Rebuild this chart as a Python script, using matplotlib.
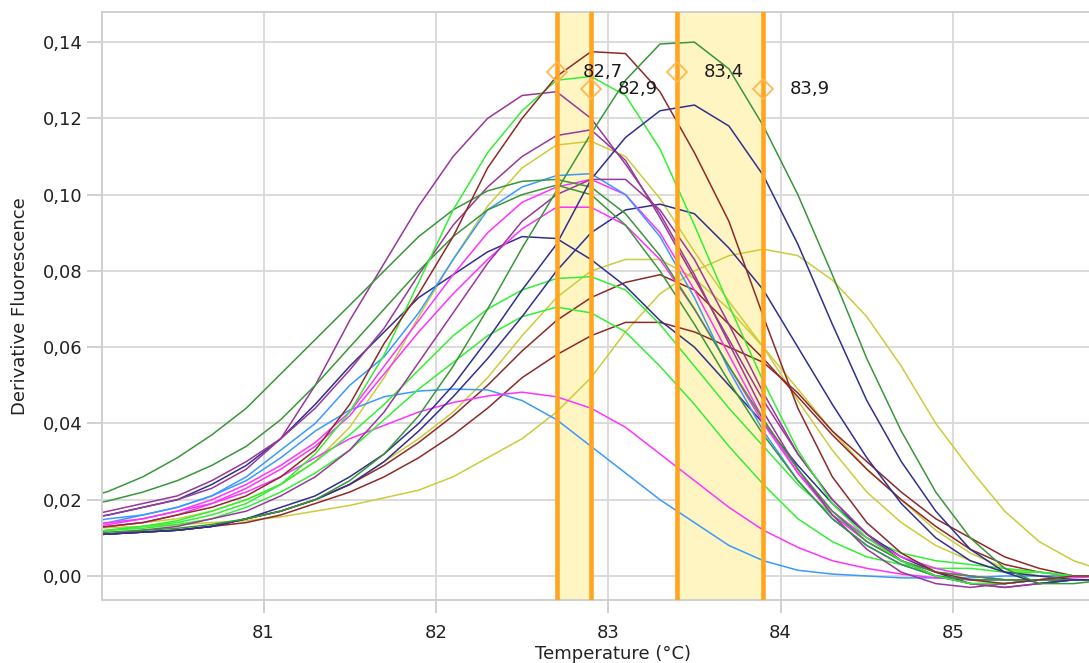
import matplotlib
matplotlib.use("Agg")
import matplotlib.pyplot as plt
from matplotlib.ticker import FuncFormatter

# Temperature grid (°C) shared by all melt curves
temps = [79.9, 80.1, 80.3, 80.5, 80.7, 80.9, 81.1, 81.3, 81.5, 81.7, 81.9,
         82.1, 82.3, 82.5, 82.7, 82.9, 83.1, 83.3, 83.5, 83.7, 83.9,
         84.1, 84.3, 84.5, 84.7, 84.9, 85.1, 85.3, 85.5, 85.7, 85.9]

# -dF/dT per well
g1 = [0.0195, 0.0222, 0.026, 0.031, 0.037, 0.044, 0.053, 0.062, 0.071, 0.080, 0.089, 0.096, 0.101, 0.1035, 0.104, 0.102,
      0.095, 0.084, 0.070, 0.055, 0.041, 0.028, 0.017, 0.009, 0.004, 0.001, 0.000, -0.001, -0.001, -0.001, -0.001]
g2 = [0.0178, 0.0197, 0.022, 0.025, 0.029, 0.034, 0.041, 0.050, 0.060, 0.070, 0.080, 0.089, 0.096, 0.100, 0.1025, 0.100,
      0.092, 0.080, 0.066, 0.051, 0.037, 0.025, 0.015, 0.008, 0.003, 0.000, -0.001, -0.001, -0.001, -0.001, -0.001]
g3 = [0.011, 0.0115, 0.012, 0.0125, 0.0135, 0.015, 0.017, 0.020, 0.025, 0.032, 0.042, 0.055, 0.070, 0.086, 0.101, 0.116,
      0.130, 0.1395, 0.140, 0.133, 0.118, 0.100, 0.079, 0.057, 0.038, 0.022, 0.010, 0.002, -0.002, -0.002, -0.001]
n1 = [0.0105, 0.011, 0.0115, 0.012, 0.013, 0.015, 0.018, 0.021, 0.026, 0.032, 0.040, 0.050, 0.062, 0.075, 0.087, 0.104,
      0.115, 0.122, 0.1235, 0.118, 0.105, 0.087, 0.066, 0.046, 0.030, 0.017, 0.007, 0.001, -0.002, -0.001, -0.001]
n2 = [0.0105, 0.011, 0.0115, 0.012, 0.013, 0.015, 0.017, 0.020, 0.024, 0.030, 0.038, 0.047, 0.057, 0.068, 0.080, 0.090,
      0.096, 0.0975, 0.095, 0.086, 0.075, 0.060, 0.045, 0.031, 0.019, 0.010, 0.004, 0.001, 0.000, -0.001, -0.001]
n3 = [0.0145, 0.016, 0.018, 0.020, 0.024, 0.029, 0.036, 0.045, 0.055, 0.064, 0.073, 0.079, 0.085, 0.089, 0.0885, 0.083,
      0.076, 0.067, 0.060, 0.050, 0.040, 0.029, 0.019, 0.011, 0.005, 0.001, -0.002, -0.002, -0.001, -0.001, -0.001]
p1 = [0.0145, 0.016, 0.018, 0.020, 0.023, 0.028, 0.036, 0.050, 0.067, 0.082, 0.097, 0.110, 0.120, 0.126, 0.127, 0.120,
      0.108, 0.095, 0.079, 0.061, 0.043, 0.028, 0.016, 0.007, 0.001, -0.002, -0.003, -0.002, -0.001, -0.001, -0.001]
p2 = [0.015, 0.017, 0.019, 0.021, 0.025, 0.030, 0.036, 0.044, 0.054, 0.065, 0.079, 0.092, 0.102, 0.110, 0.1155, 0.117,
      0.109, 0.094, 0.078, 0.062, 0.046, 0.032, 0.020, 0.011, 0.004, 0.000, -0.002, -0.003, -0.002, -0.001, -0.001]
p3 = [0.0105, 0.011, 0.012, 0.013, 0.015, 0.017, 0.021, 0.026, 0.033, 0.043, 0.056, 0.069, 0.082, 0.093, 0.100, 0.104,
      0.104, 0.096, 0.083, 0.066, 0.048, 0.032, 0.020, 0.011, 0.004, 0.000, -0.002, -0.003, -0.002, -0.001, -0.001]
br1 = [0.012, 0.013, 0.014, 0.016, 0.018, 0.021, 0.026, 0.033, 0.045, 0.061, 0.074, 0.089, 0.107, 0.120, 0.131, 0.1375,
       0.137, 0.127, 0.111, 0.093, 0.068, 0.044, 0.026, 0.014, 0.006, 0.001, -0.001, -0.002, -0.001, 0.000, 0.000]
br2 = [0.0105, 0.011, 0.0115, 0.012, 0.013, 0.015, 0.017, 0.020, 0.024, 0.029, 0.035, 0.042, 0.050, 0.059, 0.067, 0.073,
       0.077, 0.079, 0.075, 0.066, 0.057, 0.047, 0.037, 0.028, 0.020, 0.013, 0.007, 0.003, 0.001, 0.000, 0.000]
br3 = [0.0105, 0.011, 0.0115, 0.012, 0.013, 0.014, 0.016, 0.019, 0.022, 0.026, 0.031, 0.037, 0.044, 0.052, 0.058, 0.063,
       0.0665, 0.0665, 0.064, 0.060, 0.056, 0.048, 0.038, 0.030, 0.022, 0.015, 0.010, 0.005, 0.002, 0.000, 0.000]
l1 = [0.011, 0.012, 0.013, 0.014, 0.016, 0.019, 0.024, 0.032, 0.043, 0.058, 0.077, 0.096, 0.111, 0.122, 0.130, 0.131,
      0.126, 0.112, 0.092, 0.071, 0.051, 0.033, 0.019, 0.010, 0.004, 0.000, -0.002, -0.002, -0.001, 0.000, 0.000]
l2 = [0.011, 0.012, 0.013, 0.0145, 0.017, 0.020, 0.024, 0.030, 0.037, 0.045, 0.054, 0.063, 0.070, 0.075, 0.078, 0.0785,
      0.075, 0.066, 0.055, 0.044, 0.034, 0.024, 0.016, 0.010, 0.006, 0.004, 0.003, 0.002, 0.001, 0.000, 0.000]
l3 = [0.011, 0.012, 0.0125, 0.0135, 0.015, 0.018, 0.022, 0.027, 0.033, 0.041, 0.049, 0.056, 0.063, 0.068, 0.0705, 0.069,
      0.064, 0.055, 0.045, 0.034, 0.024, 0.015, 0.009, 0.005, 0.003, 0.002, 0.002, 0.001, 0.001, 0.000, 0.000]
y1 = [0.012, 0.013, 0.014, 0.015, 0.017, 0.020, 0.024, 0.030, 0.039, 0.052, 0.068, 0.083, 0.097, 0.107, 0.113, 0.114,
      0.110, 0.099, 0.085, 0.072, 0.060, 0.046, 0.033, 0.022, 0.014, 0.008, 0.004, 0.001, 0.000, 0.000, 0.000]
y2 = [0.0105, 0.011, 0.0115, 0.012, 0.013, 0.015, 0.017, 0.020, 0.024, 0.030, 0.036, 0.043, 0.052, 0.063, 0.073, 0.080,
      0.083, 0.083, 0.078, 0.070, 0.060, 0.049, 0.038, 0.028, 0.020, 0.012, 0.006, 0.002, 0.000, 0.000, 0.000]
y3 = [0.012, 0.0127, 0.013, 0.0135, 0.014, 0.0145, 0.0155, 0.017, 0.0185, 0.0205, 0.0225, 0.026, 0.031, 0.036, 0.043, 0.052,
      0.064, 0.074, 0.080, 0.084, 0.0857, 0.084, 0.0776, 0.068, 0.055, 0.040, 0.028, 0.017, 0.009, 0.004, 0.001]
b1 = [0.0135, 0.015, 0.016, 0.018, 0.021, 0.026, 0.033, 0.040, 0.050, 0.0575, 0.069, 0.083, 0.096, 0.102, 0.105, 0.1055,
      0.100, 0.089, 0.073, 0.054, 0.038, 0.025, 0.015, 0.008, 0.003, 0.000, -0.001, -0.001, -0.001, -0.001, -0.001]
b2 = [0.0125, 0.014, 0.016, 0.018, 0.021, 0.025, 0.031, 0.038, 0.0435, 0.047, 0.0485, 0.049, 0.0488, 0.046, 0.041, 0.034,
      0.027, 0.020, 0.014, 0.008, 0.004, 0.0015, 0.0005, 0.000, -0.0005, -0.0005, -0.0005, 0.000, 0.000, 0.000, 0.000]
m1 = [0.013, 0.014, 0.015, 0.017, 0.020, 0.024, 0.029, 0.035, 0.043, 0.055, 0.067, 0.079, 0.090, 0.098, 0.102, 0.104,
      0.100, 0.090, 0.075, 0.058, 0.041, 0.027, 0.016, 0.009, 0.004, 0.001, 0.000, -0.001, -0.001, -0.001, -0.001]
m2 = [0.012, 0.013, 0.014, 0.016, 0.019, 0.023, 0.028, 0.034, 0.042, 0.053, 0.064, 0.074, 0.083, 0.091, 0.0967, 0.0967,
      0.092, 0.083, 0.070, 0.055, 0.040, 0.027, 0.017, 0.010, 0.005, 0.002, 0.000, -0.001, -0.001, 0.000, 0.000]
m3 = [0.012, 0.0135, 0.015, 0.017, 0.019, 0.022, 0.026, 0.031, 0.036, 0.0395, 0.043, 0.0455, 0.0472, 0.0482, 0.047, 0.044,
      0.039, 0.032, 0.025, 0.018, 0.012, 0.0075, 0.004, 0.002, 0.0005, -0.0005, -0.001, -0.001, -0.001, -0.0005, 0.000]

DARK_GREEN = "#3a963a"
LIME = "#33f033"
MAROON = "#8e2a2a"
PURPLE = "#98389a"
NAVY = "#30308f"
BLUE = "#3a99ff"
MAGENTA = "#ff33ff"
OLIVE = "#cccc3a"

curves = [
    (y3, OLIVE), (y2, OLIVE), (y1, OLIVE),
    (br3, MAROON), (br2, MAROON),
    (b2, BLUE), (m3, MAGENTA),
    (l3, LIME), (l2, LIME),
    (n3, NAVY), (n2, NAVY),
    (m2, MAGENTA), (m1, MAGENTA), (b1, BLUE),
    (p3, PURPLE), (p2, PURPLE), (p1, PURPLE),
    (g1, DARK_GREEN), (g2, DARK_GREEN),
    (l1, LIME), (br1, MAROON), (n1, NAVY), (g3, DARK_GREEN),
]

# melt peak markers: (temperature, marker height)
peak_temps = [82.7, 82.9, 83.4, 83.9]
peak_marks = [0.1321, 0.1276, 0.1321, 0.1276]
bands = [(82.7, 82.9), (83.4, 83.9)]

plt.rcParams["font.family"] = ["DejaVu Sans"]

fig = plt.figure(figsize=(10.89, 6.63), dpi=100)
ax = fig.add_axes([102 / 1089, 63 / 663, 987 / 1089, 588 / 663])

for lo, hi in bands:
    ax.axvspan(lo, hi, color="#fff5c2", zorder=1, lw=0)

for vals, col in curves:
    ax.plot(temps, vals, color=col, lw=1.1, zorder=2)

for t in peak_temps:
    ax.axvline(t, color="#ffa51f", lw=3.3, zorder=3)

for t, h in zip(peak_temps, peak_marks):
    ax.plot(t, h, marker="D", ms=10, mfc="none", mec="#ffb851", mew=1.3, zorder=4)
    ax.annotate(f"{t:.1f}".replace(".", ","), (t, h), xytext=(19, 0),
                textcoords="offset points", va="center", ha="left",
                fontsize=13, color="#1a1a1a", zorder=5)

ax.set_xlim(80.063, 85.789)
ax.set_ylim(-0.0063, 0.1479)
ax.set_xticks([81, 82, 83, 84, 85])
ax.set_yticks([0.0, 0.02, 0.04, 0.06, 0.08, 0.10, 0.12, 0.14])
ax.yaxis.set_major_formatter(FuncFormatter(lambda v, _: f"{v:.2f}".replace(".", ",")))

ax.grid(True, color="#dadada", lw=1.4, zorder=0)
ax.set_axisbelow(True)
for side in ["left", "top", "bottom"]:
    ax.spines[side].set_color("#cfcfcf")
    ax.spines[side].set_linewidth(1.4)
ax.spines["right"].set_visible(False)

ax.tick_params(axis="y", length=11, pad=3, width=1.4, color="#d0d0d0",
               labelsize=13, labelcolor="#222222")
ax.tick_params(axis="x", length=9, pad=8, width=1.4, color="#d0d0d0",
               labelsize=13, labelcolor="#222222")

ax.set_xlabel("Temperature (°C)", fontsize=13, color="#222222")
ax.set_ylabel("Derivative Fluorescence", fontsize=13, color="#222222")
ax.xaxis.set_label_coords(0.518, -0.076)
ax.yaxis.set_label_coords(-0.074, 0.5)

fig.savefig("out.png", dpi=100, facecolor="white")
